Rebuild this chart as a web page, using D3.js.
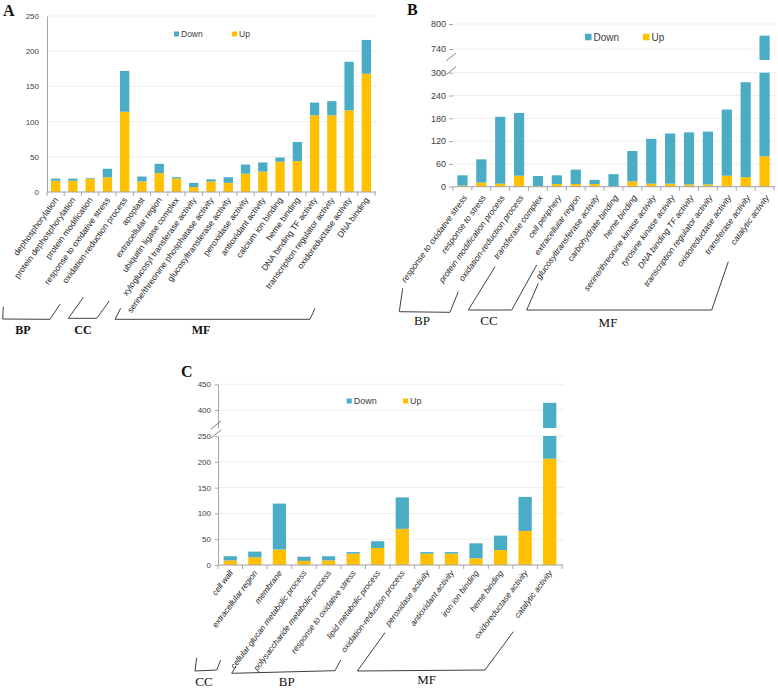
<!DOCTYPE html>
<html><head><meta charset="utf-8">
<script src="https://cdn.jsdelivr.net/npm/d3@7"></script>
<style>body{margin:0;background:#fff}svg{display:block}</style>
</head><body><svg id="chart" width="778" height="688"></svg>
<script>
// ---------------- DATA ----------------
const seriesKeys = ["Up", "Down"];

const catsA = ["dephosphorylation","protein dephosphorylation","protein modification","response to oxidative stress","oxidation-reduction process","apoplast","extracellular region","ubiquitin ligase complex","xyloglucosyl transferase activity","serine/threonine phosphatase activity","glucosyltransferase activity","peroxidase activity","antioxidant activity","calcium ion binding","heme binding","DNA binding TF activity","transcription regulator activity","oxidoreductase activity","DNA binding"];
const upA   = [16,16,19,21,114,15,27,19,7,15,13,26,29,43,44,109,109,116,168];
const downA = [3,3,1,12,58,7,13,2,6,3,8,13,13,6,27,18,20,69,48];
const ticksA = [0,50,100,150,200,250];

const catsB = ["response to oxidative stress","response to stress","protein modification process","oxidation-reduction process","transferase complex","cell periphery","extracellular region","glucosyltransferase activity","carbohydrate binding","heme binding","serine/threonine kinase activity","tyrosine kinase activity","DNA binding TF activity","transcription regulator activity","oxidoreductase activity","transferase activity","catalytic activity"];
const upB   = [3,11,8,29,2,7,7,7,1,14,8,8,6,6,29,25,80];
const downB = [27,61,176,165,26,23,38,11,32,80,118,132,137,139,174,250,692];
const ticksBLow  = [0,60,120,180,240,300];
const ticksBHigh = [740,800];

const catsC = ["cell wall","extracellular region","membrane","cellular glucan metabolic process","polysaccharide metabolic process","response to oxidative stress","lipid metabolic process","oxidation-reduction process","peroxidase activity","antioxidant activity","iron ion binding","heme binding","oxidoreductase activity","catalytic activity"];
const upC   = [9,15,30,8,9,22,33,70,22,22,13,29,66,206];
const downC = [8,11,89,8,8,3,13,61,3,3,29,28,66,208];
const ticksCLow  = [0,50,100,150,200,250];
const ticksCHigh = [400,450];

// ---------------- STYLE ----------------
const colors = {Up:"#ffc000", Down:"#4bacc6"};
const svg = d3.select("#chart");
svg.append("rect").attr("width",778).attr("height",688).attr("fill","#fff");

function panel(o){
  const g = svg.append("g");
  const table = o.cats.map((c,i)=>({cat:c, Up:o.up[i], Down:o.down[i]}));
  const stack = d3.stack().keys(seriesKeys)(table);
  const x = d3.scaleBand().domain(o.cats).range([o.x0,o.x1]).paddingInner(0.46).paddingOuter(0.23);
  const step = x.step();
  const segs = o.segs.map(s=>({y:d3.scaleLinear().domain(s.domain).range(s.range), ticks:s.ticks}));

  // grid
  segs.forEach(s=>{
    g.append("g").selectAll("line").data(s.ticks).join("line")
      .attr("x1",o.x0).attr("x2",o.x1+2)
      .attr("y1",d=>s.y(d)).attr("y2",d=>s.y(d))
      .attr("stroke","#eeeeee").attr("stroke-width",1);
  });

  // bars
  stack.forEach(ser=>{
    segs.forEach(s=>{
      const [d0,d1] = s.y.domain();
      g.append("g").selectAll("rect").data(ser.filter(d=>Math.min(d[1],d1) > Math.max(d[0],d0))).join("rect")
        .attr("x",d=>x(d.data.cat))
        .attr("width",x.bandwidth())
        .attr("y",d=>s.y(Math.min(d[1],d1)))
        .attr("height",d=>s.y(Math.max(d[0],d0)) - s.y(Math.min(d[1],d1)))
        .attr("fill",colors[ser.key]);
    });
  });

  // y axes
  segs.forEach(s=>{
    const ax = g.append("g").attr("transform",`translate(${o.x0},0)`)
      .call(d3.axisLeft(s.y).tickValues(s.ticks).tickSize(o.ytick).tickPadding(o.ypad).tickSizeOuter(0));
    ax.select(".domain").attr("stroke", o.yLine ? "#a6a6a6" : "none");
    ax.selectAll(".tick line").attr("stroke","#a6a6a6");
    ax.selectAll("text").attr("font-family","Liberation Sans, Arial, sans-serif").attr("font-size",o.tickFs).attr("fill","#404040");
  });

  // break marks
  if(segs.length>1){
    const upBottom = segs[1].y.range()[0], loTop = segs[0].y.range()[1];
    [upBottom-3, loTop-2].forEach(cy=>{
      g.append("line").attr("x1",o.x0-7).attr("x2",o.x0+3).attr("y1",cy+4).attr("y2",cy-4)
        .attr("stroke","#7f7f7f").attr("stroke-width",1);
    });
  }

  // x axis
  const base = segs[0].y(0);
  g.append("line").attr("x1",o.x0).attr("x2",o.x1+1).attr("y1",base).attr("y2",base).attr("stroke","#a6a6a6");
  g.append("g").selectAll("line").data(d3.range(o.cats.length+1)).join("line")
    .attr("x1",i=>o.x0+i*step).attr("x2",i=>o.x0+i*step)
    .attr("y1",base).attr("y2",base+4).attr("stroke","#a6a6a6");

  // category labels
  g.append("g").selectAll("text").data(o.cats).join("text")
    .attr("transform",d=>`translate(${x(d)+x.bandwidth()/2+o.ldx},${base+o.ldy}) rotate(${o.angle})`)
    .attr("text-anchor","end")
    .attr("font-family","Liberation Sans, Arial, sans-serif")
    .attr("font-size",o.labFs)
    .attr("font-style",o.italic?"italic":"normal")
    .attr("fill","#262626")
    .text(d=>d);

  // legend
  const lg = g.append("g");
  o.legend.forEach(l=>{
    lg.append("rect").attr("x",l.x).attr("y",o.legY-o.legSq/2).attr("width",o.legSq).attr("height",o.legSq).attr("fill",colors[l.key]);
    lg.append("text").attr("x",l.x+o.legSq+2).attr("y",o.legY).attr("dy","0.35em")
      .attr("font-family","Liberation Sans, Arial, sans-serif").attr("font-size",o.legFs).attr("fill","#404040").text(l.key);
  });

  // panel letter
  g.append("text").attr("x",o.letter[0]).attr("y",o.letter[1]).text(o.letterText)
    .attr("font-family","Liberation Serif, Times New Roman, serif").attr("font-weight","bold").attr("font-size",16).attr("fill","#111");

  // group brackets
  o.groups.forEach(gr=>{
    g.append("path").attr("d",d3.line()(gr.pts)).attr("fill","none").attr("stroke","#404040").attr("stroke-width",1);
    g.append("text").attr("x",gr.lx).attr("y",gr.ly).attr("text-anchor","middle")
      .attr("font-family","Liberation Serif, Times New Roman, serif").attr("font-size",o.grpFs)
      .attr("font-weight",o.grpBold?"bold":"normal").attr("fill","#111").text(gr.name);
  });
}

panel({
  cats:catsA, up:upA, down:downA, x0:47, x1:375,
  segs:[{domain:[0,250], range:[192,16], ticks:ticksA}],
  ytick:0, ypad:8, yLine:true, tickFs:8, labFs:8.5, italic:false, angle:-54, ldx:3, ldy:8,
  legY:34, legSq:5, legFs:8.5, legend:[{key:"Down",x:174},{key:"Up",x:232}],
  letter:[3,16], letterText:"A", grpFs:12, grpBold:true,
  groups:[
    {name:"BP", lx:23, ly:334, pts:[[3.3,306.7],[2.7,319],[50,319.3],[60,304.3]]},
    {name:"CC", lx:83, ly:334, pts:[[83.3,297.3],[68.3,318.3],[96.7,318.3],[109.3,301]]},
    {name:"MF", lx:201, ly:334, pts:[[120.7,308.3],[115,319.3],[310,319.3],[315,308.3]]}
  ]
});

panel({
  cats:catsB, up:upB, down:downB, x0:453, x1:774,
  segs:[{domain:[0,300], range:[186.7,72.7], ticks:ticksBLow},{domain:[713.6,800], range:[60,24], ticks:ticksBHigh}],
  ytick:4, ypad:3, yLine:false, tickFs:9, labFs:8.5, italic:true, angle:-54, ldx:5, ldy:11,
  legY:37, legSq:6.5, legFs:10, legend:[{key:"Down",x:585},{key:"Up",x:643}],
  letter:[407,15], letterText:"B", grpFs:13, grpBold:false,
  groups:[
    {name:"BP", lx:422, ly:325, pts:[[402.7,288.3],[399.3,311.7],[450,312.3],[458.3,291.7]]},
    {name:"CC", lx:489, ly:325, pts:[[495,266.7],[468.3,310],[511.7,310],[536.7,265]]},
    {name:"MF", lx:608, ly:327, pts:[[538.3,283.3],[526.7,310],[711.7,310],[728.3,261.7]]}
  ]
});

panel({
  cats:catsC, up:upC, down:downC, x0:218, x1:562,
  segs:[{domain:[0,250], range:[565,436], ticks:ticksCLow},{domain:[365,450], range:[428,384.3], ticks:ticksCHigh}],
  ytick:3, ypad:4, yLine:true, tickFs:8, labFs:8.2, italic:true, angle:-53, ldx:3, ldy:8,
  legY:401, legSq:5, legFs:9, legend:[{key:"Down",x:346.7},{key:"Up",x:403}],
  letter:[181,377], letterText:"C", grpFs:13, grpBold:false,
  groups:[
    {name:"CC", lx:204, ly:686, pts:[[196.7,657.7],[195,671],[216.7,670],[220.7,660]]},
    {name:"BP", lx:286.7, ly:686, pts:[[236,666],[231.7,673.3],[335,670.7],[340.7,660]]},
    {name:"MF", lx:426.7, ly:684, pts:[[385,632.7],[357.3,671],[485,670],[513.3,631.7]]}
  ]
});
</script>
</body></html>
